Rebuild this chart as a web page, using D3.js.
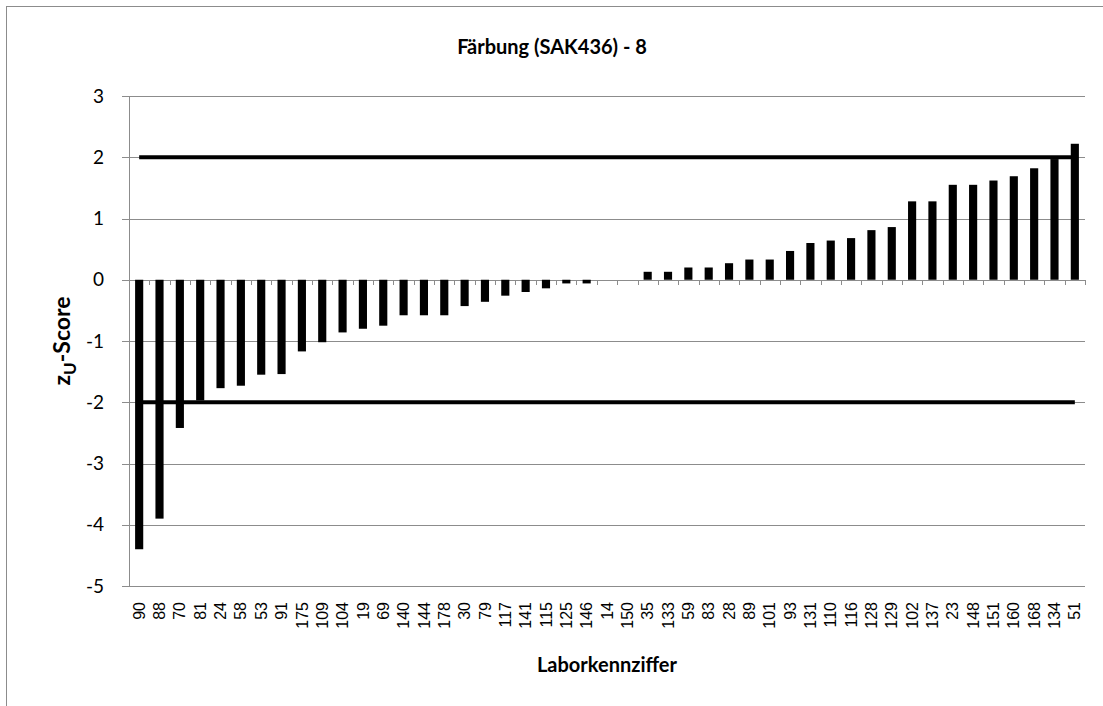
<!DOCTYPE html>
<html>
<head>
<meta charset="utf-8">
<script src="https://cdn.jsdelivr.net/npm/d3@7"></script>
<style>
  body { margin: 0; background: #fff; }
  svg text { fill: #000; }
</style>
</head>
<body>
<div id="chart"></div>
<script>
// Laborkennziffern (x-Kategorien)
const labs = ['90','88','70','81','24','58','53','91','175','109','104','19','69','140','144','178','30','79','117','141','115','125','146','14','150','35','133','59','83','28','89','101','93','131','110','116','128','129','102','137','23','148','151','160','168','134','51'];
// zU-Score pro Labor
const scores = [-4.4,-3.9,-2.42,-1.97,-1.77,-1.73,-1.55,-1.54,-1.17,-1.02,-0.86,-0.8,-0.75,-0.58,-0.58,-0.58,-0.43,-0.36,-0.26,-0.2,-0.14,-0.06,-0.06,0,0,0.13,0.13,0.2,0.2,0.27,0.33,0.33,0.47,0.6,0.64,0.68,0.81,0.86,1.28,1.28,1.55,1.55,1.62,1.69,1.82,1.97,2.22];
// Grenzlinien
const limits = [2, -2];
const yTicks = [3, 2, 1, 0, -1, -2, -3, -4, -5];

let width = 1103;
let height = 706;
let margin = {left: 129, right: 18, top: 96, bottom: 120};

let svg = d3.select('#chart').append('svg')
    .attr('width', width)
    .attr('height', height);

// Rahmen
svg.append('rect')
    .attr('x', 6.5).attr('y', 6.5)
    .attr('width', 1110).attr('height', 710)
    .attr('fill', 'none')
    .attr('stroke', '#8c8c8c')
    .attr('stroke-width', 1);

let x = d3.scaleBand()
    .domain(labs)
    .range([margin.left, width - margin.right])
    .paddingInner(0.6)
    .paddingOuter(0.3);

let y = d3.scaleLinear()
    .domain([-5, 3])
    .range([586, margin.top]);

// Gitterlinien
svg.append('g')
    .selectAll('line')
    .data(yTicks)
    .enter()
    .append('line')
    .attr('x1', margin.left - 7)
    .attr('x2', width - margin.right)
    .attr('y1', d => Math.round(y(d)) + 0.5)
    .attr('y2', d => Math.round(y(d)) + 0.5)
    .attr('stroke', '#8c8c8c')
    .attr('stroke-width', 1);

// y-Achse
svg.append('line')
    .attr('x1', margin.left + 0.5).attr('x2', margin.left + 0.5)
    .attr('y1', y(3)).attr('y2', y(-5))
    .attr('stroke', '#8c8c8c');

svg.append('g')
    .selectAll('text')
    .data(yTicks)
    .enter()
    .append('text')
    .attr('x', 104)
    .attr('y', d => y(d))
    .attr('dy', '0.35em')
    .attr('text-anchor', 'end')
    .style('font-family', 'Lato, "Open Sans", sans-serif')
    .style('font-size', '19px')
    .text(d => d);

// Ticks an der x-Achse (Kategoriegrenzen)
let step = x.step();
let x0 = margin.left;
svg.append('g')
    .selectAll('line')
    .data(d3.range(labs.length + 1))
    .enter()
    .append('line')
    .attr('x1', i => Math.round(x0 + i * step) + 0.5)
    .attr('x2', i => Math.round(x0 + i * step) + 0.5)
    .attr('y1', Math.round(y(0)))
    .attr('y2', Math.round(y(0)) + 5)
    .attr('stroke', '#8c8c8c');

// Balken
svg.append('g')
    .selectAll('rect')
    .data(scores)
    .enter()
    .append('rect')
    .attr('x', (d, i) => x(labs[i]))
    .attr('width', x.bandwidth())
    .attr('y', d => y(Math.max(0, d)))
    .attr('height', d => Math.abs(y(d) - y(0)))
    .attr('fill', '#000');

// Grenzlinien +/-2
let xFirst = x(labs[0]) + x.bandwidth() / 2;
let xLast = x(labs[labs.length - 1]) + x.bandwidth() / 2;
svg.append('g')
    .selectAll('line')
    .data(limits)
    .enter()
    .append('line')
    .attr('x1', xFirst)
    .attr('x2', xLast)
    .attr('y1', d => y(d))
    .attr('y2', d => y(d))
    .attr('stroke', '#000')
    .attr('stroke-width', 4);

// x-Beschriftungen
svg.append('g')
    .selectAll('text')
    .data(labs)
    .enter()
    .append('text')
    .attr('transform', d => 'translate(' + (x(d) + x.bandwidth() / 2) + ',602) rotate(-90)')
    .attr('dy', '0.35em')
    .attr('text-anchor', 'end')
    .style('font-family', '"Liberation Sans", Arial, sans-serif')
    .style('font-size', '16px')
    .text(d => d);

// Titel
svg.append('text')
    .attr('x', 552)
    .attr('y', 54)
    .attr('text-anchor', 'middle')
    .style('font-family', 'Lato, "Open Sans", sans-serif')
    .style('font-weight', 'bold')
    .style('font-size', '20px')
    .text('Färbung (SAK436) - 8');

// Achsentitel
svg.append('text')
    .attr('x', (margin.left + width - margin.right) / 2)
    .attr('y', 672)
    .attr('text-anchor', 'middle')
    .style('font-family', 'Lato, "Open Sans", sans-serif')
    .style('font-weight', 'bold')
    .style('font-size', '20px')
    .text('Laborkennziffer');

let yTitle = svg.append('text')
    .attr('transform', 'translate(70,341) rotate(-90)')
    .attr('text-anchor', 'middle')
    .style('font-family', 'Lato, "Open Sans", sans-serif')
    .style('font-weight', 'bold')
    .style('font-size', '23px');
yTitle.append('tspan').text('z');
yTitle.append('tspan').attr('dy', 6).style('font-size', '17px').text('U');
yTitle.append('tspan').attr('dy', -6).text('-Score');
</script>
</body>
</html>
